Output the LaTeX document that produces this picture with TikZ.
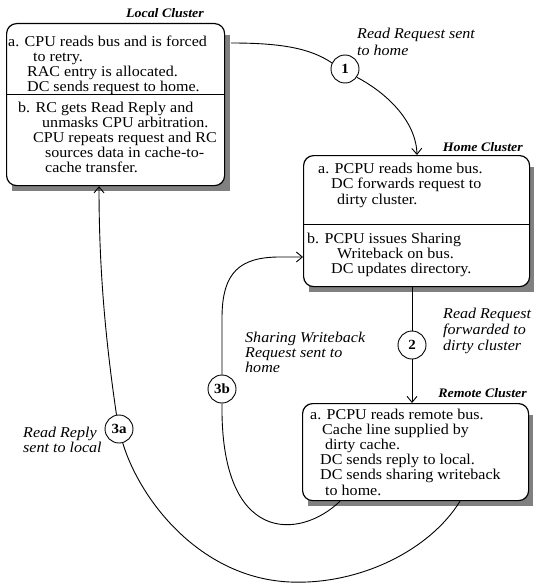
\documentclass[tikz,border=0pt]{standalone}
\usepackage{fontspec}
\setmainfont{Liberation Serif}[FakeStretch=1.07]
\usetikzlibrary{arrows.meta,calc}
\begin{document}
\begin{tikzpicture}[x=1pt,y=-1pt,
  box/.style={draw, line width=1.2pt, rounded corners=10pt, fill=white, anchor=north west, inner sep=0pt},
  txt/.style={anchor=north west, inner sep=0pt, align=left, font=\fontsize{15}{15.2}\selectfont},
  lab/.style={anchor=north west, inner sep=0pt, align=left, font=\fontsize{15}{16}\selectfont\itshape},
  ttl/.style={anchor=base east, inner sep=0pt, font=\fontsize{13}{15}\selectfont\bfseries\itshape},
  num/.style={draw, circle, line width=0.9pt, fill=white, minimum size=28pt, inner sep=0pt, font=\fontsize{14}{16}\selectfont\bfseries},
  conn/.style={line width=0.9pt},
  arr/.style={conn, -{Straight Barb[length=6pt,width=10pt]}},
  divider/.style={line width=1pt}
]
\useasboundingbox (0,0) rectangle (534,583);

% shadows
\fill[black!50] (12,35) rectangle (230,191);
\fill[black!50] (309,167) rectangle (534,292);
\fill[black!50] (308,415) rectangle (533,506);

% boxes
\node[box, minimum width=218pt, minimum height=162pt] (lc) at (6,23) {};
\node[box, minimum width=226pt, minimum height=131pt] (hc) at (303,155) {};
\node[box, minimum width=226pt, minimum height=97pt] (rc) at (302,403) {};

\draw[divider] (lc.west |- 0,95) -- (lc.east |- 0,95);
\draw[divider] (hc.west |- 0,224) -- (hc.east |- 0,224);

% box texts
\node[txt] (la) at (8,35.5) {a. CPU reads bus and is forced\\\hspace*{25pt}to retry.\\\hspace*{19pt}RAC entry is allocated.\\\hspace*{19pt}DC sends request to home.};
\node[txt] (lb) at (18,101.5) {b. RC gets Read Reply and\\\hspace*{24pt}unmasks CPU arbitration.\\\hspace*{15pt}CPU repeats request and RC\\\hspace*{27pt}sources data in cache-to-\\\hspace*{27pt}cache transfer.};
\node[txt] (ha) at (318,163) {a. PCPU reads home bus.\\\hspace*{13pt}DC forwards request to\\\hspace*{19pt}dirty cluster.};
\node[txt] (hb) at (307,232.5) {b. PCPU issues Sharing\\\hspace*{30pt}Writeback on bus.\\\hspace*{24pt}DC updates directory.};
\node[txt] (ra) at (310,408.5) {a. PCPU reads remote bus.\\\hspace*{12pt}Cache line supplied by\\\hspace*{15pt}dirty cache.\\\hspace*{10pt}DC sends reply to local.\\\hspace*{10pt}DC sends sharing writeback\\\hspace*{15pt}to home.};

% titles
\node[ttl] (tl) at (204,18) {Local Cluster};
\node[ttl] (th) at (523,151) {Home Cluster};
\node[ttl] (tr) at (527,397) {Remote Cluster};

% labels
\node[lab, font=\fontsize{15}{17}\selectfont\itshape] (l1) at (357,27.5) {Read Request sent\\to home};
\node[lab] (l2) at (443,307.5) {Read Request\\forwarded to\\dirty cluster};
\node[lab, font=\fontsize{15}{15}\selectfont\itshape] (l3b) at (245,331.5) {Sharing Writeback\\Request sent to\\home};
\node[lab, font=\fontsize{15}{15}\selectfont\itshape] (l3a) at (23,426.5) {Read Reply\\sent to local};

% circles
\node[num] (c1) at (345,69) {1};
\node[num] (c2) at (412,345) {2};
\node[num] (c3b) at (222,389) {3b};
\node[num] (c3a) at (119,429) {3a};

% connectors
\draw[conn] ([xshift=6pt,yshift=-20pt]lc.north east) .. controls (280,43) and (310,48) .. (c1.155);
\draw[arr] (c1.-35) .. controls (385,92) and (416,120) .. (hc.north -| 417,0);
\draw[conn] (hc.south -| c2) -- (c2);
\draw[arr] (c2) -- (rc.north -| c2);
\draw[conn] ([xshift=38pt]rc.south west) .. controls (300,540) and (220,545) .. (c3b.south);
\draw[arr] (c3b.north) -- (222,318) .. controls (222,272) and (240,257) .. (280,257) -- (hc.west |- 0,257);
\draw[conn] ([xshift=158pt]rc.south west) .. controls (430,550) and (360,585) .. (290,582) .. controls (200,578) and (140,500) .. (c3a.-75);
\draw[arr] (c3a.100) .. controls (104,330) and (99,260) .. ([xshift=93pt]lc.south west);
\end{tikzpicture}
\end{document}
